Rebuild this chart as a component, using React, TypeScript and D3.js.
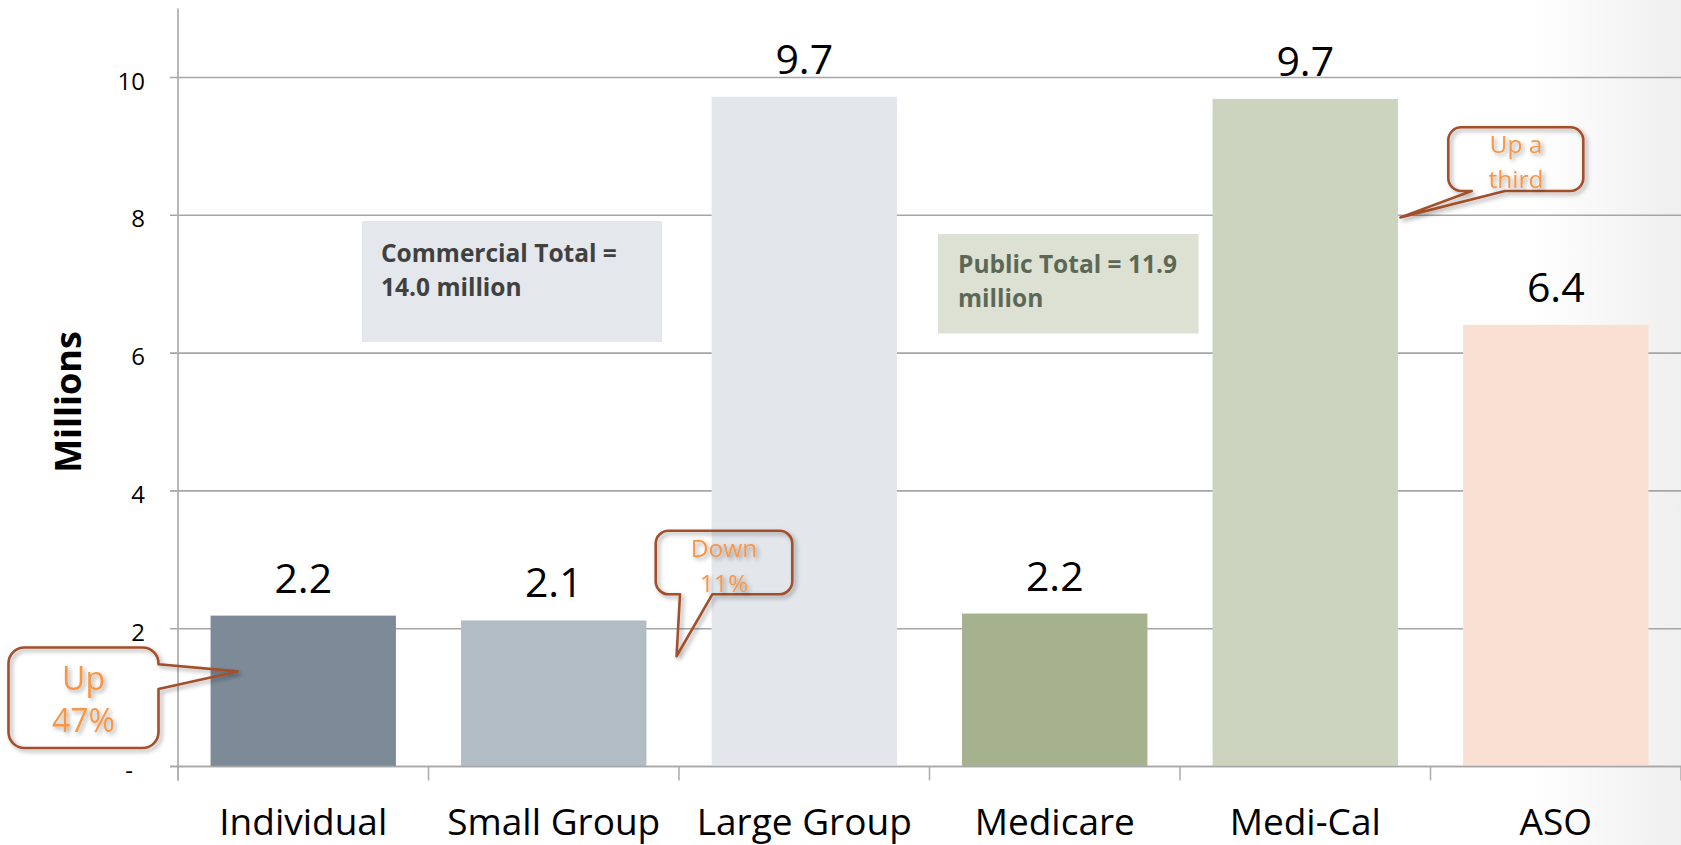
import React, { useRef, useEffect } from 'react';
import * as d3 from 'd3';

// data
const categories = ['Individual', 'Small Group', 'Large Group', 'Medicare', 'Medi-Cal', 'ASO'];
const enrollment = [2.19, 2.12, 9.72, 2.22, 9.69, 6.41];
const barColors = ['#7d8b99', '#b2bcc5', '#e3e7ec', '#a6b18e', '#ccd4bf', '#fae0d2'];
const yTicks = [0, 2, 4, 6, 8, 10];
const yTickLabels = ['-', '2', '4', '6', '8', '10'];
const commercialNote = ['Commercial Total =', '14.0 million'];
const publicNote = ['Public Total = 11.9', 'million'];
const calloutText = [['Up', '47%'], ['Down', '11%'], ['Up a', 'third']];

const W = 1681;
const H = 845;
const FONT = '"Open Sans", "Noto Sans", sans-serif';

// rounded box with a pointer on the right or bottom edge
const calloutPath = (x, y, w, h, r, side, b1, b2, tx, ty) => {
  let p = `M${x + r},${y} H${x + w - r} A${r},${r} 0 0 1 ${x + w},${y + r}`;
  if (side === 'right') p += ` V${b1} L${tx},${ty} L${x + w},${b2}`;
  p += ` V${y + h - r} A${r},${r} 0 0 1 ${x + w - r},${y + h}`;
  if (side === 'bottom') p += ` H${b2} L${tx},${ty} L${b1},${y + h}`;
  p += ` H${x + r} A${r},${r} 0 0 1 ${x},${y + h - r} V${y + r} A${r},${r} 0 0 1 ${x + r},${y} Z`;
  return p;
};

const App = () => {
  const svgRef = useRef<SVGSVGElement>(null);

  useEffect(() => {
    const svg = d3.select(svgRef.current);
    svg.selectAll('*').remove();

    const left = 178;
    const x = d3.scaleBand().domain(categories).range([left, W]).paddingInner(0.26).paddingOuter(0.13);
    const y = d3.scaleLinear().domain([0, 11]).range([766.5, 8.6]);

    const defs = svg.append('defs');
    const grad = defs.append('linearGradient').attr('id', 'bgFade').attr('x1', 0).attr('x2', 1).attr('y1', 0).attr('y2', 0);
    grad.append('stop').attr('offset', '0%').attr('stop-color', '#ffffff');
    grad.append('stop').attr('offset', '100%').attr('stop-color', '#efefef');
    const shadow = defs.append('filter').attr('id', 'shadow').attr('x', '-20%').attr('y', '-20%').attr('width', '140%').attr('height', '140%');
    shadow.append('feDropShadow').attr('dx', 2.5).attr('dy', 2.5).attr('stdDeviation', 2.2)
      .attr('flood-color', '#000').attr('flood-opacity', 0.35);

    svg.append('rect').attr('width', W).attr('height', H).attr('fill', '#fff');
    svg.append('rect').attr('x', 1530).attr('width', W - 1530).attr('height', H).attr('fill', 'url(#bgFade)');

    // gridlines + y ticks
    svg.append('g').selectAll('line').data(yTicks).enter().append('line')
      .attr('x1', left - 8).attr('x2', W)
      .attr('y1', d => y(d)).attr('y2', d => y(d))
      .attr('stroke', '#a6a6a6').attr('stroke-width', 1.6);

    svg.append('g').selectAll('text').data(yTicks).enter().append('text')
      .attr('x', (d, i) => (i === 0 ? 133 : 145))
      .attr('y', d => y(d) + 12)
      .attr('text-anchor', 'end')
      .style('font-family', FONT).style('font-size', '24px').style('fill', '#000')
      .text((d, i) => yTickLabels[i]);

    // axes
    svg.append('line').attr('x1', left).attr('x2', left).attr('y1', y(11)).attr('y2', y(0) + 14)
      .attr('stroke', '#b0b0b0').attr('stroke-width', 1.8);
    const bounds = categories.map(c => x(c) - (x.step() - x.bandwidth()) / 2).concat([W]);
    svg.append('g').selectAll('line').data(bounds).enter().append('line')
      .attr('x1', d => d).attr('x2', d => d).attr('y1', y(0)).attr('y2', y(0) + 14)
      .attr('stroke', '#b0b0b0').attr('stroke-width', 1.6);

    // bars
    svg.append('g').selectAll('rect').data(enrollment).enter().append('rect')
      .attr('x', (d, i) => x(categories[i]))
      .attr('y', d => y(d))
      .attr('width', x.bandwidth())
      .attr('height', d => y(0) - y(d))
      .attr('fill', (d, i) => barColors[i]);

    svg.append('line').attr('x1', left - 8).attr('x2', W).attr('y1', y(0)).attr('y2', y(0))
      .attr('stroke', '#a6a6a6').attr('stroke-width', 1.6);

    // value labels
    svg.append('g').selectAll('text').data(enrollment).enter().append('text')
      .attr('x', (d, i) => x(categories[i]) + x.bandwidth() / 2)
      .attr('y', d => y(d) - 23)
      .attr('text-anchor', 'middle')
      .style('font-family', FONT).style('font-size', '41px').style('fill', '#000')
      .text(d => d.toFixed(1));

    // category labels
    svg.append('g').selectAll('text').data(categories).enter().append('text')
      .attr('x', d => x(d) + x.bandwidth() / 2)
      .attr('y', 835)
      .attr('text-anchor', 'middle')
      .style('font-family', FONT).style('font-size', '37px').style('fill', '#000')
      .text(d => d);

    svg.append('text')
      .attr('transform', 'translate(81,402) rotate(-90)')
      .attr('text-anchor', 'middle')
      .style('font-family', FONT).style('font-size', '36px').style('font-weight', 700).style('fill', '#000')
      .text('Millions');

    // total boxes
    const note = (bx, by, bw, bh, fill, color, lines, tx, baselines) => {
      svg.append('rect').attr('x', bx).attr('y', by).attr('width', bw).attr('height', bh).attr('fill', fill);
      lines.forEach((t, i) => {
        svg.append('text').attr('x', tx).attr('y', baselines[i])
          .style('font-family', FONT).style('font-size', '24.5px').style('font-weight', 700).style('fill', color)
          .text(t);
      });
    };
    note(362, 221, 300, 121, '#e4e7eb', '#404040', commercialNote, 381, [262, 296]);
    note(938, 234, 260.5, 99.5, '#dde1d3', '#5c6856', publicNote, 958, [273, 307]);

    // callouts (tips anchored to the chart scales)
    const callouts = [
      { box: [8.5, 647.5, 150, 100.5, 16], side: 'right', b: [664.3, 689],
        tip: [x('Individual') + 27, y(1.38)], cx: 83.5, base: [690, 731.7], size: 32 },
      { box: [655.7, 530.7, 136.6, 63.6, 13], side: 'bottom', b: [680, 712.3],
        tip: [x('Large Group') - 35, y(1.6)], cx: 724, base: [556.7, 591.7], size: 24.5 },
      { box: [1448.3, 127.3, 135, 63.7, 13], side: 'bottom', b: [1471.7, 1505],
        tip: [x('Medi-Cal') + x.bandwidth() + 2.5, y(7.97)], cx: 1516, base: [153.3, 188], size: 24.5 },
    ];
    callouts.forEach((c, k) => {
      const [bx, by, bw, bh, r] = c.box;
      svg.append('path')
        .attr('d', calloutPath(bx, by, bw, bh, r, c.side, c.b[0], c.b[1], c.tip[0], c.tip[1]))
        .attr('fill', 'none').attr('stroke', '#a24f2c').attr('stroke-width', 2.6)
        .attr('stroke-linejoin', 'round')
        .attr('filter', 'url(#shadow)');
      calloutText[k].forEach((t, i) => {
        svg.append('text').attr('x', c.cx).attr('y', c.base[i])
          .attr('text-anchor', 'middle')
          .attr('filter', 'url(#shadow)')
          .style('font-family', FONT).style('font-size', `${c.size}px`).style('fill', '#f79646')
          .text(t);
      });
    });
  }, []);

  return (
    <svg
      ref={svgRef}
      width={W}
      height={H}
      style={{ position: 'absolute', left: 0, top: 0, display: 'block' }}
    ></svg>
  );
};

export default App;
